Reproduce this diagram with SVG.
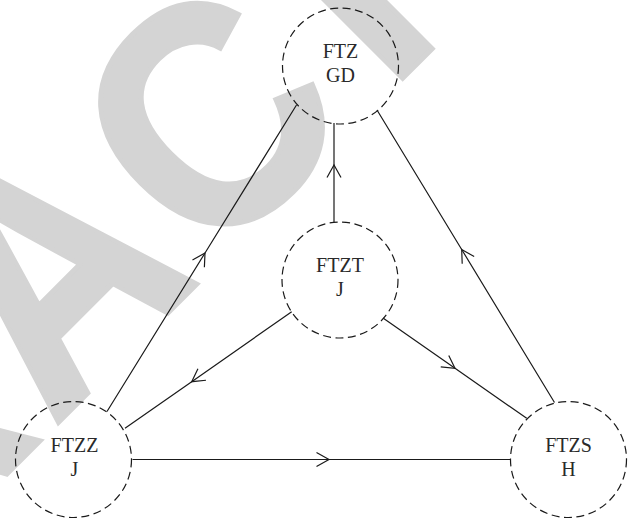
<svg xmlns="http://www.w3.org/2000/svg" width="635" height="518" viewBox="0 0 635 518">
<defs>
<marker id="arr" markerUnits="userSpaceOnUse" markerWidth="30" markerHeight="30" viewBox="-15 -15 30 30" refX="0" refY="0" orient="auto" overflow="visible">
<path d="M-12.5,-7 L0,0 L-12.5,7" fill="none" stroke="#1a1a1a" stroke-width="1.2"/>
</marker>
<style>
.wm { font-family: "Liberation Sans", Arial, sans-serif; font-weight: bold; font-size: 318px; fill: #d4d4d4; stroke: #d4d4d4; stroke-width: 5; stroke-linejoin: miter; }
.node circle { fill: none; stroke: #1a1a1a; stroke-width: 1.2; stroke-dasharray: 8 4.5; }
.node text { font-family: "Liberation Serif", "Times New Roman", serif; font-size: 20px; fill: #2a2a2a; text-anchor: middle; }
.edge { fill: none; stroke: #1a1a1a; stroke-width: 1.2; marker-mid: url(#arr); }
</style>
</defs>
<rect width="635" height="518" fill="#ffffff"/>
<g id="watermark">
<g transform="rotate(-45) scale(0.92,1)">
<text class="wm" x="-531 -45.7 175" y="340">RCT</text>
</g>
<g transform="rotate(-45) scale(0.86,1)">
<text class="wm" x="-308" y="340" style="font-size:340px">A</text>
</g>
</g>
<g id="connectors">
<path class="edge" d="M132.5,459.5 L329,459.5 L510,459.5"/>
<path class="edge" d="M107,411.5 L205,253 L296.5,105"/>
<path class="edge" d="M554.5,402.5 L461.7,249.5 L377,110"/>
<path class="edge" d="M334,222 L334,165 L334,123"/>
<path class="edge" d="M291.7,311.7 L191.7,381.7 L125,428.3"/>
<path class="edge" d="M383,318 L455,368.3 L526.7,418.3"/>
</g>
<g id="node-gd" class="node">
<circle cx="340.5" cy="66" r="58"/>
<text x="340.5" y="58">FTZ</text>
<text x="340.5" y="82">GD</text>
</g>
<g id="node-ftzt" class="node">
<circle cx="340" cy="280" r="58"/>
<text x="340" y="272">FTZT</text>
<text x="340" y="296">J</text>
</g>
<g id="node-ftzz" class="node">
<circle cx="73.5" cy="459.5" r="58"/>
<text x="74.5" y="451.5">FTZZ</text>
<text x="74.5" y="475.5">J</text>
</g>
<g id="node-ftzs" class="node">
<circle cx="568.5" cy="459.5" r="58"/>
<text x="568.5" y="451.5">FTZS</text>
<text x="568.5" y="475.5">H</text>
</g>
</svg>
